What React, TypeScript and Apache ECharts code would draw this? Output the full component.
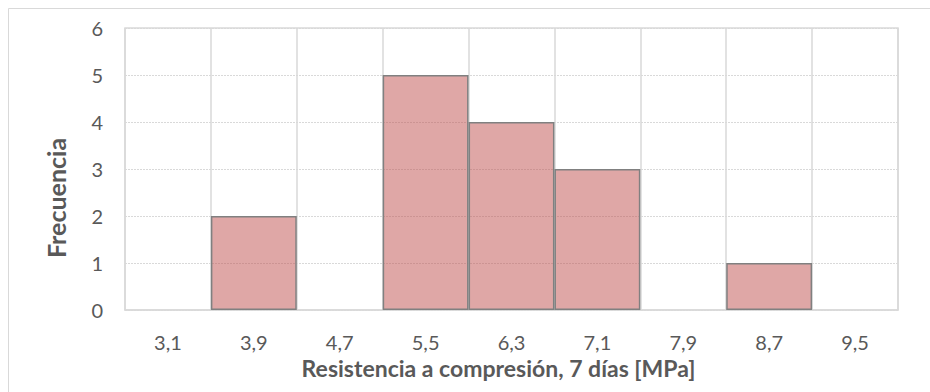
import React, { useEffect, useRef } from "react";
import * as echarts from "echarts";

const categories = ["3,1", "3,9", "4,7", "5,5", "6,3", "7,1", "7,9", "8,7", "9,5"];
const frequencies = [0, 2, 0, 5, 4, 3, 0, 1, 0];
const xTitle = "Resistencia a compresión, 7 días [MPa]";
const yTitle = "Frecuencia";

export default function App() {
  const ref = useRef<HTMLDivElement>(null);
  useEffect(() => {
    if (!ref.current) return;
    const chart = echarts.init(ref.current, undefined, { renderer: "svg" });
    const font = "Lato, 'Open Sans', sans-serif";
    chart.setOption({
      animation: false,
      backgroundColor: "#ffffff",
      graphic: [
        {
          type: "rect",
          shape: { x: 8.5, y: 8.5, width: 930, height: 400 },
          style: { fill: "none", stroke: "#d9d9d9", lineWidth: 1 },
          silent: true,
        },
      ],
      grid: {
        left: 125,
        right: 32,
        top: 28,
        bottom: 82,
        show: true,
        borderColor: "#d9d9d9",
        borderWidth: 1.5,
      },
      xAxis: {
        type: "category",
        data: categories,
        boundaryGap: true,
        name: xTitle,
        nameLocation: "middle",
        nameGap: 42,
        nameTextStyle: { fontFamily: font, fontSize: 23, fontWeight: "bold", color: "#595959", padding: [0, 26, 0, 0] },
        axisLine: { show: true, lineStyle: { color: "#d9d9d9", width: 1.5 } },
        axisTick: { show: false },
        axisLabel: { fontFamily: font, fontSize: 20, color: "#595959", margin: 22 },
        splitLine: { show: true, lineStyle: { color: "#d9d9d9", width: 1.5 } },
      },
      yAxis: {
        type: "value",
        min: 0,
        max: 6,
        interval: 1,
        name: yTitle,
        nameLocation: "middle",
        nameRotate: 90,
        nameGap: 57,
        nameTextStyle: { fontFamily: font, fontSize: 25, fontWeight: "bold", color: "#595959", padding: [0, 58, 0, 0] },
        axisLine: { show: false },
        axisTick: { show: false },
        axisLabel: { fontFamily: font, fontSize: 20, color: "#595959", margin: 22 },
        splitLine: { show: true, lineStyle: { color: "#d9d9d9", width: 1, type: [2, 1] } },
      },
      series: [
        {
          type: "bar",
          data: frequencies.map((v) => (v === 0 ? null : v)),
          barWidth: "100%",
          barCategoryGap: "0%",
          itemStyle: {
            color: "rgba(192,80,77,0.5)",
            borderColor: "#808080",
            borderWidth: 1.5,
          },
        },
      ],
    });
    return () => chart.dispose();
  }, []);
  return (
    <div
      ref={ref}
      style={{ position: "fixed", left: 0, top: 0, width: 930, height: 392 }}
    />
  );
}
